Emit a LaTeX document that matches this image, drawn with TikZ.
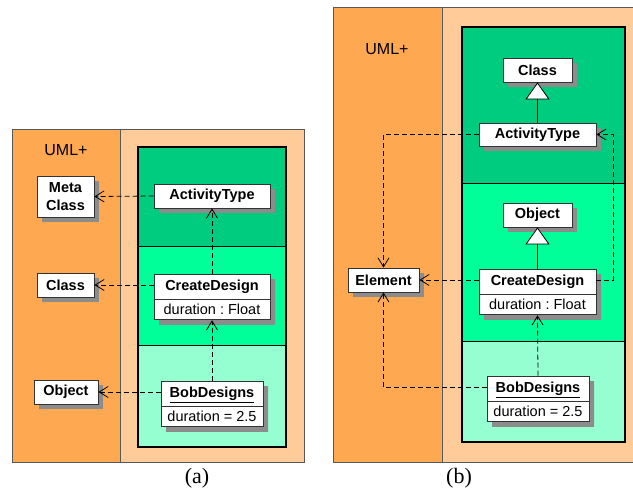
\documentclass[tikz,border=0pt]{standalone}
\usepackage{fontspec}
\setmainfont{Liberation Serif}
\setsansfont{Liberation Sans}
\usetikzlibrary{arrows.meta,shapes.multipart,shadows}
\frenchspacing

\definecolor{umlorange}{RGB}{255,168,82}
\definecolor{umlpeach}{RGB}{255,204,153}
\definecolor{darkgrn}{RGB}{0,204,128}
\definecolor{midgrn}{RGB}{0,255,153}
\definecolor{lightgrn}{RGB}{150,255,210}

\begin{document}
\begin{tikzpicture}[x=1pt,y=-1pt,thick,
    box/.style={draw=black!80,line width=0.8pt,fill=white,
      font=\sffamily\bfseries\fontsize{14.5pt}{17pt}\selectfont,
      inner sep=0pt,minimum height=24pt,
      drop shadow={shadow xshift=5pt,shadow yshift=-5pt,opacity=1,fill=black!45}},
    splitbox/.style={box,rectangle split,rectangle split parts=2,
      text height=11pt,text depth=3.5pt,inner ysep=4.75pt,inner xsep=0pt},
    dep/.style={draw,line width=0.8pt,dash pattern=on 5pt off 3pt,
      -{Straight Barb[length=9pt,width=11pt]}},
    gen/.style={draw,line width=0.8pt,-{Triangle[length=17pt,width=24pt,fill=white]}},
    panel/.style={draw=black!65,line width=0.8pt},
    caption/.style={font=\fontsize{22pt}{24pt}\selectfont}]

  \useasboundingbox (0,0) rectangle (633,492);

  % (a)
  \path[panel,fill=umlorange] (12,129) rectangle (120,462);
  \path[panel,fill=umlpeach] (120,129) rectangle (304,462);
  \fill[darkgrn] (138,147) rectangle (286,247);
  \fill[midgrn] (138,247) rectangle (286,346);
  \fill[lightgrn] (138,346) rectangle (286,447);
  \draw[line width=1pt] (138,247) -- (286,247) (138,346) -- (286,346);
  \draw[line width=2.2pt] (138,147) rectangle (286,447);
  \node[font=\sffamily\fontsize{16pt}{18pt}\selectfont] (umla) at (66,150) {UML+};

  \node[box,minimum width=57pt,minimum height=41pt,align=center,
        font=\sffamily\bfseries\fontsize{14.5pt}{18pt}\selectfont] (meta) at (65.5,196.5) {Meta\\Class};
  \node[box,minimum width=116pt] (acta) at (212,196) {ActivityType};
  \node[box,minimum width=57pt] (clsa) at (65.5,285) {Class};
  \node[splitbox,minimum width=116pt] (cda) at (212,297)
        {CreateDesign\nodepart{two}\mdseries duration : Float};
  \node[box,minimum width=64pt] (obja) at (66,392) {Object};
  \node[splitbox,minimum width=102pt] (boba) at (212,404)
        {\underline{BobDesigns}\nodepart{two}\mdseries duration = 2.5};

  \path[dep] (acta.west) -- (meta.east);
  \path[dep] (clsa.east -| cda.west) -- (clsa.east);
  \path[dep] (obja.east -| boba.west) -- (obja.east);
  \path[dep] (cda.north) -- (acta.south);
  \path[dep] (boba.north) -- (cda.south);

  \node[caption] (capa) at (197,478) {(a)};

  % (b)
  \path[panel,fill=umlorange] (333,7) rectangle (442,462);
  \path[panel,fill=umlpeach] (442,7) -- (634,7) -- (634,462) -- (442,462) -- cycle;
  \fill[darkgrn] (462,27) rectangle (625,184);
  \fill[midgrn] (462,184) rectangle (625,342);
  \fill[lightgrn] (462,342) rectangle (625,442);
  \draw[line width=1pt] (462,184) -- (625,184) (462,342) -- (625,342);
  \draw[line width=2.2pt] (462,27) rectangle (625,442);
  \node[font=\sffamily\fontsize{16pt}{18pt}\selectfont] (umlb) at (387,49) {UML+};

  \node[box,minimum width=69pt] (clsb) at (537.5,70) {Class};
  \node[box,minimum width=117pt,minimum height=23pt] (actb) at (537.5,134.5) {ActivityType};
  \node[box,minimum width=69pt] (objb) at (537.5,215) {Object};
  \node[splitbox,minimum width=117pt] (cdb) at (537.5,292)
        {CreateDesign\nodepart{two}\mdseries duration : Float};
  \node[box,minimum width=71pt] (elem) at (383.5,280) {Element};
  \node[splitbox,minimum width=102pt] (bobb) at (538,399)
        {\underline{BobDesigns}\nodepart{two}\mdseries duration = 2.5};

  \path[gen] (actb.north) -- (clsb.south);
  \path[gen] (cdb.north) -- (objb.south);
  \path[dep] (actb.west) -| (elem.north);
  \path[dep] (elem.east -| cdb.west) -- (elem.east);
  \path[dep] (elem.east -| cdb.east) -- ++(17,0) |- (actb.east);
  \path[dep] ([yshift=-12pt]bobb.north west) -| (elem.south);
  \path[dep] (bobb.north) -- (cdb.south);

  \node[caption] (capb) at (459,478) {(b)};
\end{tikzpicture}
\end{document}
